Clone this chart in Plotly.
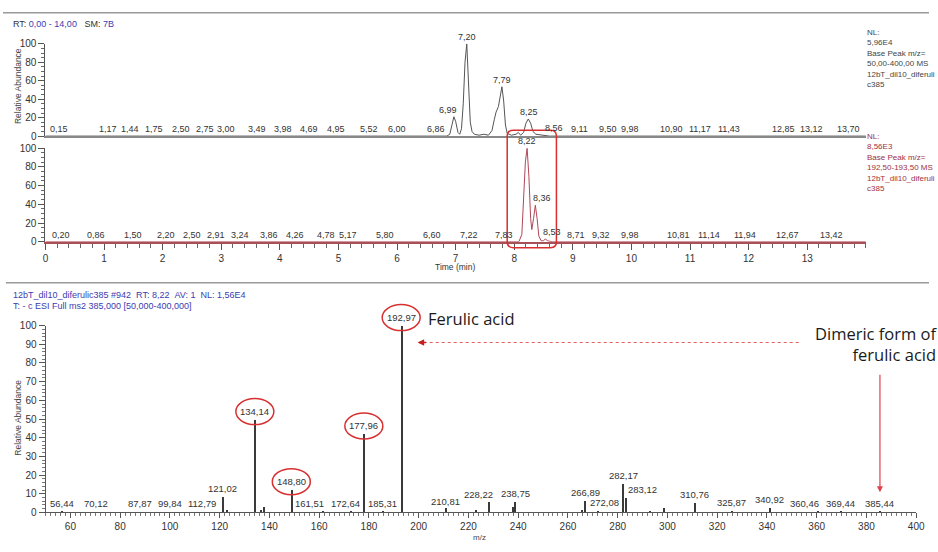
import plotly.graph_objects as go

W, H = 938, 552

# ---------------- data ----------------
# Chromatogram 1: Base peak m/z 50-400
c1_time = [0.0, 6.85, 6.90, 6.94, 6.97, 7.00, 7.04, 7.07, 7.10, 7.13, 7.16, 7.19, 7.22, 7.25,
           7.28, 7.32, 7.40, 7.48, 7.56, 7.62, 7.66, 7.69, 7.73, 7.76, 7.79, 7.82, 7.85, 7.88,
           7.95, 8.03, 8.07, 8.11, 8.16, 8.20, 8.24, 8.28, 8.32, 8.37, 8.44, 8.52, 8.60, 14.0]
c1_abund = [0, 0, 2, 12, 21, 16, 4, 2, 8, 35, 80, 100, 55, 15,
            5, 2, 1, 2, 1, 6, 18, 26, 32, 45, 53.5, 38, 12, 3,
            1, 2, 4, 1, 4, 14, 18.6, 14, 5, 2, 1.5, 0.5, 0, 0]

# Chromatogram 2: Base peak m/z 192.50-193.50
c2_time = [0.0, 8.08, 8.13, 8.16, 8.19, 8.22, 8.25, 8.28, 8.30, 8.33, 8.36, 8.39, 8.42,
           8.46, 8.50, 8.53, 8.57, 8.65, 14.0]
c2_abund = [0, 0, 8, 45, 85, 100, 70, 25, 13, 25, 39, 25, 6,
            1, 1, 3, 1, 0, 0]

c1_label_text = ["0,15", "1,17", "1,44", "1,75", "2,50", "2,75", "3,00", "3,49", "3,98", "4,69",
                 "4,95", "5,52", "6,00", "6,86", "6,99", "7,20", "7,79", "8,25", "8,56", "9,11",
                 "9,50", "9,98", "10,90", "11,17", "11,43", "12,85", "13,12", "13,70"]
c1_label_abund = [0, 0, 0, 0, 0, 0, 0, 0, 0, 0,
                  0, 0, 0, 0.5, 21, 100, 53.5, 18.6, 1.5, 0,
                  0, 0, 0, 0, 0, 0, 0, 0]

c2_label_text = ["0,20", "0,86", "1,50", "2,20", "2,50", "2,91", "3,24", "3,86", "4,26", "4,78",
                 "5,17", "5,80", "6,60", "7,22", "7,83", "8,22", "8,36", "8,53", "8,71", "9,32",
                 "9,98", "10,81", "11,14", "11,94", "12,67", "13,42"]
c2_label_abund = [0, 0, 0, 0, 0, 0, 0, 0, 0, 0,
                  0, 0, 0, 0, 0, 100, 39, 3, 0, 0,
                  0, 0, 0, 0, 0, 0]

# MS2 spectrum of m/z 385
ms_mz = [56.44, 70.12, 87.87, 99.84, 112.79, 121.02, 122.9, 134.14, 136.5, 137.6, 148.80,
         161.51, 172.64, 177.96, 185.31, 192.97, 210.81, 223.0, 228.22, 237.6, 238.75,
         265.6, 266.89, 272.08, 282.17, 283.12, 293.0, 298.5, 310.76, 325.87, 340.92,
         360.46, 369.44, 385.44]
ms_abund = [0.6, 0.4, 0.4, 0.4, 0.4, 8.4, 1.4, 49.7, 1.7, 3.1, 12.2,
            0.5, 0.5, 42.0, 0.5, 100.0, 2.5, 1.5, 5.8, 3.0, 5.8,
            1.5, 6.6, 0.8, 15.4, 8.0, 1.0, 2.8, 5.2, 0.8, 2.6,
            0.6, 0.5, 0.5]

ms_label_text = ["56,44", "70,12", "87,87", "99,84", "112,79", "121,02", "134,14", "148,80",
                 "161,51", "172,64", "177,96", "185,31", "192,97", "210,81", "228,22", "238,75",
                 "266,89", "272,08", "282,17", "283,12", "310,76", "325,87", "340,92", "360,46",
                 "369,44", "385,44"]
ms_label_abund = [0.6, 0.4, 0.4, 0.4, 0.4, 8.4, 49.7, 12.2,
                  0.5, 0.5, 42.0, 0.5, 100.0, 1.5, 5.2, 5.8,
                  6.6, 0.8, 15.4, 8.0, 5.2, 0.8, 2.6, 0.6,
                  0.5, 0.5]
circled = ["134,14", "148,80", "177,96", "192,97"]

# label nudges (pixels) where the instrument software moved labels sideways
c1_nudge = {"0,15": 5, "1,17": -6, "1,75": 6, "2,50": -11, "2,75": -2, "3,00": 5, "3,49": 7,
            "3,98": 4, "4,69": -11, "6,86": -11, "6,99": -7, "8,56": 7, "9,50": 6, "10,90": -13,
            "11,43": 14, "12,85": -15, "13,12": -3}
c2_nudge = {"0,20": 4, "2,20": -8, "3,24": 5, "3,86": -3, "8,36": 7, "8,53": 7, "8,71": 20,
            "9,32": 9, "11,14": 11}
ms_nudge = {"161,51": -13, "172,64": -5, "228,22": -10, "272,08": 7, "283,12": 17, "360,46": -13}

# ---------------- layout helpers ----------------
def px(p):
    return p / W

def py(p):
    return 1 - p / H

FONT = "Liberation Sans, Arial, sans-serif"
BLUE = "#3c3cb0"
DARKRED = "#a03040"

CH_X = [px(43), px(874)]
Y1 = [py(133), py(38.7)]
Y2 = [py(241), py(145.3)]
MS_X = [px(43.1), px(925)]
Y3 = [py(517.7), py(326.7)]

def to_num(s):
    return float(s.replace(",", "."))

fig = go.Figure()
fig.add_trace(go.Scatter(x=c1_time, y=c1_abund, mode="lines", xaxis="x", yaxis="y",
                         line=dict(color="#555555", width=1), hoverinfo="skip"))
fig.add_trace(go.Scatter(x=c2_time, y=c2_abund, mode="lines", xaxis="x2", yaxis="y2",
                         line=dict(color="#b04858", width=1), hoverinfo="skip"))
fig.add_trace(go.Bar(x=ms_mz, y=ms_abund, width=0.45, xaxis="x3", yaxis="y3",
                     marker=dict(color="#3a3a3a", line=dict(width=0)), hoverinfo="skip"))

tickfont = dict(family=FONT, size=10, color="#333333")
common_y = dict(showgrid=False, zeroline=False, showline=True, linewidth=1, linecolor="#555555",
                ticks="outside", ticklen=6, tickcolor="#555555", tickfont=tickfont)

fig.update_layout(
    width=W, height=H, margin=dict(l=0, r=0, t=0, b=0),
    paper_bgcolor="white", plot_bgcolor="white", showlegend=False,
    xaxis=dict(domain=CH_X, range=[0, 14], anchor="y", showgrid=False, zeroline=False,
               showline=True, linewidth=2, linecolor="#888888", showticklabels=False, ticks=""),
    yaxis=dict(domain=Y1, range=[0, 100], anchor="x", tickvals=[0, 20, 40, 60, 80, 100],
               minor=dict(dtick=5, ticklen=3, ticks="outside", tickcolor="#666666"), **common_y),
    xaxis2=dict(domain=CH_X, range=[0, 14], anchor="y2", showgrid=False, zeroline=False,
                showline=True, linewidth=2, linecolor="#a85058",
                tickvals=list(range(0, 14)), ticks="outside", ticklen=6, tickcolor="#555555",
                tickfont=tickfont,
                minor=dict(dtick=0.2, tick0=0, ticklen=4, ticks="outside", tickcolor="#666666")),
    yaxis2=dict(domain=Y2, range=[0, 100], anchor="x2", tickvals=[0, 20, 40, 60, 80, 100],
                minor=dict(dtick=5, ticklen=3, ticks="outside", tickcolor="#666666"), **common_y),
    xaxis3=dict(domain=MS_X, range=[50, 400], anchor="y3", showgrid=False, zeroline=False,
                showline=True, linewidth=1, linecolor="#555555",
                tickvals=list(range(60, 401, 20)), ticks="outside", ticklen=5, tickcolor="#555555",
                tickfont=tickfont,
                minor=dict(dtick=2, tick0=50, ticklen=3, ticks="outside", tickcolor="#777777")),
    yaxis3=dict(domain=Y3, range=[0, 100], anchor="x3", tickvals=list(range(0, 101, 10)),
                minor=dict(dtick=2, ticklen=3, ticks="outside", tickcolor="#777777"), **common_y),
    bargap=0,
)

ann = []
ch_font = dict(family=FONT, size=9, color="#333333")
ms_font = dict(family=FONT, size=9.5, color="#333333")

for t, v in zip(c1_label_text, c1_label_abund):
    ann.append(dict(x=to_num(t), y=v, xref="x", yref="y", text=t, showarrow=False,
                    xanchor="center", yanchor="middle", yshift=7, xshift=c1_nudge.get(t, 0),
                    font=ch_font))
for t, v in zip(c2_label_text, c2_label_abund):
    ann.append(dict(x=to_num(t), y=v, xref="x2", yref="y2", text=t, showarrow=False,
                    xanchor="center", yanchor="middle", yshift=7, xshift=c2_nudge.get(t, 0),
                    font=ch_font))
for t, v in zip(ms_label_text, ms_label_abund):
    ann.append(dict(x=to_num(t), y=v, xref="x3", yref="y3", text=t, showarrow=False,
                    xanchor="center", yanchor="middle", yshift=8, xshift=ms_nudge.get(t, 0),
                    font=ms_font))

small = dict(family=FONT, size=9, color="#333333")
NB = "\u00a0"
P = dict(xref="paper", yref="paper", showarrow=False)
ann += [
    dict(x=px(8), y=py(18), xanchor="left", yanchor="middle",
         text=f"RT:{NB}<span style='color:{BLUE}'>0,00 - 14,00</span>{NB}{NB}{NB}SM:{NB}<span style='color:{BLUE}'>7B</span>",
         font=small, **P),
    dict(x=px(873), y=py(20), xanchor="left", yanchor="top", align="left",
         font=dict(family=FONT, size=8, color="#444444"),
         text="NL:<br>5,96E4<br>Base Peak m/z=<br>50,00-400,00" + NB + "MS<br>12bT_dil10_diferuli<br>c385", **P),
    dict(x=px(873), y=py(127), xanchor="left", yanchor="top", align="left",
         font=dict(family=FONT, size=8, color=DARKRED),
         text="NL:<br>8,56E3<br>Base Peak m/z=<br>192,50-193,50" + NB + "MS<br>12bT_dil10_diferuli<br>c385", **P),
    dict(x=px(15), y=py(82), xanchor="center", yanchor="middle", textangle=-90,
         text="Relative Abundance", font=dict(family=FONT, size=8.5, color="#444444"), **P),
    dict(x=px(15), y=py(421), xanchor="center", yanchor="middle", textangle=-90,
         text="Relative Abundance", font=dict(family=FONT, size=8.5, color="#444444"), **P),
    dict(x=px(458), y=py(267), xanchor="center", yanchor="middle",
         text="Time (min)", font=dict(family=FONT, size=8.5, color="#333333"), **P),
    dict(x=px(483), y=py(543), xanchor="center", yanchor="middle",
         text="m/z", font=dict(family=FONT, size=8, color="#444444"), **P),
    dict(x=px(8), y=py(295), xanchor="left", yanchor="middle",
         text=f"12bT_dil10_diferulic385 #942{NB}{NB}RT:{NB}8,22{NB}{NB}AV:{NB}1{NB}{NB}NL:{NB}1,56E4",
         font=dict(family=FONT, size=9, color=BLUE), **P),
    dict(x=px(8), y=py(307), xanchor="left", yanchor="middle",
         text="T: - c ESI Full ms2 385,000 [50,000-400,000]",
         font=dict(family=FONT, size=9, color=BLUE), **P),
    dict(x=px(428), y=py(319), xanchor="left", yanchor="middle",
         text="Ferulic acid", font=dict(family="Open Sans", size=16.5, color="#1a1a1a"), **P),
    dict(x=px(948), y=py(345), xanchor="right", yanchor="middle", align="right",
         text="Dimeric form of<br>ferulic acid",
         font=dict(family="Open Sans", size=16.5, color="#1a1a1a"), **P),
    # arrowheads
    dict(x=px(420), y=py(344), xref="paper", yref="paper", text="", showarrow=True,
         ax=10, ay=0, arrowhead=2, arrowsize=1, arrowwidth=1.3, arrowcolor="#c81e1e"),
    dict(x=385.44, y=py(497), xref="x3", yref="paper", text="", showarrow=True,
         ax=0, ay=-119, arrowhead=2, arrowsize=1, arrowwidth=1.2, arrowcolor="#e0404a"),
]

shapes = [
    dict(type="line", xref="paper", yref="paper", x0=0, x1=1, y0=py(7), y1=py(7),
         line=dict(color="#9a9a9a", width=1.5)),
    dict(type="line", xref="paper", yref="paper", x0=px(3), x1=1, y0=py(283), y1=py(283),
         line=dict(color="#9a9a9a", width=1.5)),
    dict(type="line", xref="paper", yref="paper", x0=px(806), x1=px(428), y0=py(344), y1=py(344),
         line=dict(color="#e26060", width=1, dash="dot")),
]

# rounded red box around the 8,22 / 8,36 peaks in the second chromatogram
bx0, bx1 = 7.88, 8.72
by0, by1 = py(247), py(127)
rx, ry = 0.1, 6 / H
path = (f"M {bx0 + rx},{by1} L {bx1 - rx},{by1} Q {bx1},{by1} {bx1},{by1 - ry} "
        f"L {bx1},{by0 + ry} Q {bx1},{by0} {bx1 - rx},{by0} "
        f"L {bx0 + rx},{by0} Q {bx0},{by0} {bx0},{by0 + ry} "
        f"L {bx0},{by1 - ry} Q {bx0},{by1} {bx0 + rx},{by1} Z")
shapes.append(dict(type="path", xref="x2", yref="paper", path=path,
                   line=dict(color="#d83030", width=1.5)))

# red ellipses around key fragment labels
y3_lo, y3_hi = Y3
for t, v in zip(ms_label_text, ms_label_abund):
    if t in circled:
        yanchor = y3_lo + v / 100 * (y3_hi - y3_lo)
        shapes.append(dict(type="circle", xref="x3", xsizemode="pixel", xanchor=to_num(t),
                           x0=-19, x1=19, yref="paper", ysizemode="pixel", yanchor=yanchor,
                           y0=-5, y1=21, line=dict(color="#d83030", width=1.5)))

fig.update_layout(annotations=ann, shapes=shapes)
fig.write_html("out.html", config={"displayModeBar": False},
               post_script="document.body.style.margin='0';document.body.style.overflow='hidden';")
